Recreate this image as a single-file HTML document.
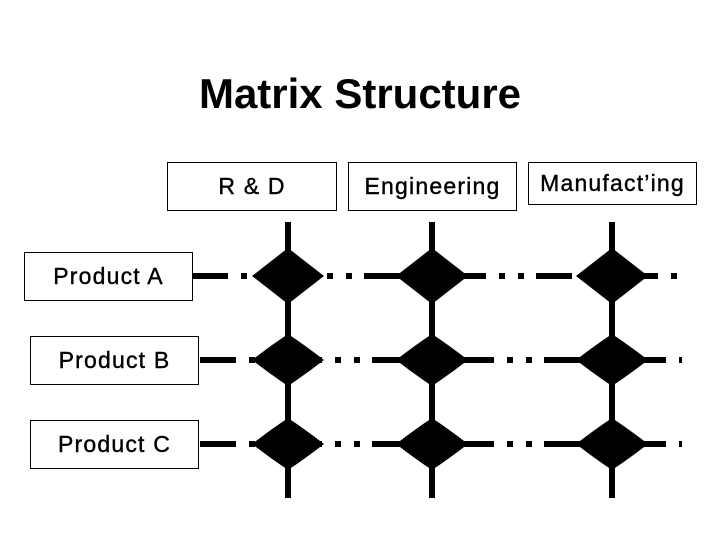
<!DOCTYPE html>
<html><head><style>
body{margin:0;background:#fff;width:720px;height:540px;overflow:hidden;position:relative;font-family:"Liberation Sans",Arial,sans-serif}
.t{position:absolute;left:0;width:720px;text-align:center;top:70px;font-size:42px;font-weight:bold}
.b{position:absolute;border:1.5px solid #000;box-sizing:border-box;display:flex;align-items:center;justify-content:center;font-size:23px;letter-spacing:1.2px;-webkit-text-stroke:0.4px #000}
</style></head><body>
<div class="t">Matrix Structure</div>
<div class="b" style="left:167px;top:162px;width:170px;height:49px">R &amp; D</div>
<div class="b" style="left:348px;top:162px;width:169px;height:49px">Engineering</div>
<div class="b" style="left:528px;top:162px;width:169px;height:43px">Manufact’ing</div>
<div class="b" style="left:24px;top:252px;width:169px;height:49px">Product A</div>
<div class="b" style="left:30px;top:336px;width:169px;height:49px">Product B</div>
<div class="b" style="left:30px;top:420px;width:169px;height:49px">Product C</div>
<svg width="720" height="540" style="position:absolute;left:0;top:0">
<g stroke="#000" stroke-width="6">
<line x1="288" y1="222" x2="288" y2="498"/>
<line x1="432" y1="222" x2="432" y2="498"/>
<line x1="612" y1="222" x2="612" y2="498"/>
<g stroke-dasharray="36 13 6 13 6 12">
<line x1="192" y1="276" x2="682" y2="276"/>
<line x1="198" y1="360" x2="682" y2="360" stroke-dashoffset="-2"/>
<line x1="198" y1="444" x2="682" y2="444" stroke-dashoffset="-2"/>
</g></g>
<g fill="#000">
<path d="M252 276 Q270 262 288 248 Q306 262 324 276 Q306 290 288 304 Q270 290 252 276Z"/>
<path d="M396 276 Q414 262 432 248 Q450 262 468 276 Q450 290 432 304 Q414 290 396 276Z"/>
<path d="M576 276 Q594 262 612 248 Q630 262 648 276 Q630 290 612 304 Q594 290 576 276Z"/>
<path d="M252 360 Q270 346 288 334 Q306 346 324 360 Q306 374 288 386 Q270 374 252 360Z"/>
<path d="M396 360 Q414 346 432 334 Q450 346 468 360 Q450 374 432 386 Q414 374 396 360Z"/>
<path d="M576 360 Q594 346 612 334 Q630 346 648 360 Q630 374 612 386 Q594 374 576 360Z"/>
<path d="M252 444 Q270 430 288 418 Q306 430 324 444 Q306 458 288 470 Q270 458 252 444Z"/>
<path d="M396 444 Q414 430 432 418 Q450 430 468 444 Q450 458 432 470 Q414 458 396 444Z"/>
<path d="M576 444 Q594 430 612 418 Q630 430 648 444 Q630 458 612 470 Q594 458 576 444Z"/>
</g>
</svg>
</body></html>
